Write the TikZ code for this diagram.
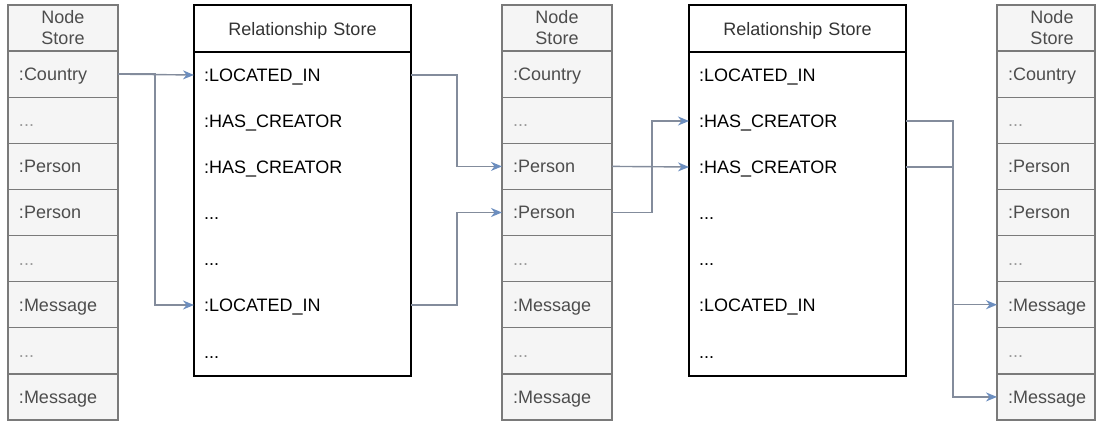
\documentclass[tikz,border=0pt]{standalone}
\usepackage{fontspec}
\setmainfont{Liberation Sans}
\usetikzlibrary{arrows.meta}

\definecolor{cellfill}{HTML}{F5F5F5}
\definecolor{cellline}{HTML}{7A7A7A}
\definecolor{celltext}{HTML}{4D4D4D}
\definecolor{dotstext}{HTML}{9A9A9A}
\definecolor{wireline}{HTML}{838C9C}
\definecolor{arrowblue}{HTML}{6C8EBF}
\definecolor{headtext}{HTML}{333333}

\tikzset{
  storebase/.style={draw=cellline, fill=cellfill, line width=1.3pt,
    rectangle, anchor=north west, outer sep=0pt,
    minimum width=110pt, minimum height=46.11pt,
    text width=88pt, inner xsep=11pt, inner ysep=0pt,
    font=\fontsize{18}{21}\selectfont, text=celltext},
  storecell/.style={storebase, align=left, text height=13pt, text depth=-4pt},
  storehead/.style={storebase, align=center},
  dotcell/.style={storecell, text=dotstext},
  narrowcol/.style={minimum width=98pt, text width=76pt},
  relrow/.style={rectangle, anchor=north west, outer sep=0pt,
    minimum width=217pt, minimum height=46pt,
    text width=197pt, inner xsep=10pt, inner ysep=0pt, align=left,
    text height=13pt, text depth=0pt,
    font=\fontsize{18}{21}\selectfont, text=black},
  relhead/.style={relrow, minimum height=47pt, align=center, text=headtext},
  relframe/.style={draw=black, line width=1.8pt},
  wire/.style={draw=wireline, line width=1.4pt,
    -{Stealth[length=11pt, width=9pt, inset=3.5pt, color=arrowblue]}},
}

\begin{document}
\begin{tikzpicture}[x=1pt, y=-1pt]
\useasboundingbox (0,0) rectangle (1096,423);

% Node store columns
\foreach \col/\x in {L/8, M/502} {
  \node[storehead] (\col0) at (\x,5) {Node\\Store};
  \node[storecell] (\col1) at (\x,{5+1*46.11}) {:Country};
  \node[dotcell]   (\col2) at (\x,{5+2*46.11}) {...};
  \node[storecell] (\col3) at (\x,{5+3*46.11}) {:Person};
  \node[storecell] (\col4) at (\x,{5+4*46.11}) {:Person};
  \node[dotcell]   (\col5) at (\x,{5+5*46.11}) {...};
  \node[storecell] (\col6) at (\x,{5+6*46.11}) {:Message};
  \node[dotcell]   (\col7) at (\x,{5+7*46.11}) {...};
  \node[storecell] (\col8) at (\x,{5+8*46.11}) {:Message};
}

% Right node store column, cut by the page edge
\node[storebase, narrowcol, label={[xshift=6pt, align=center, text=celltext,
    font=\fontsize{18}{21}\selectfont]center:Node\\Store}] (R0) at (997,5) {};
\node[storecell, narrowcol] (R1) at (997,{5+1*46.11}) {:Country};
\node[dotcell, narrowcol]   (R2) at (997,{5+2*46.11}) {...};
\node[storecell, narrowcol] (R3) at (997,{5+3*46.11}) {:Person};
\node[storecell, narrowcol] (R4) at (997,{5+4*46.11}) {:Person};
\node[dotcell, narrowcol]   (R5) at (997,{5+5*46.11}) {...};
\node[storecell, narrowcol] (R6) at (997,{5+6*46.11}) {:Message};
\node[dotcell, narrowcol]   (R7) at (997,{5+7*46.11}) {...};
\node[storecell, narrowcol] (R8) at (997,{5+8*46.11}) {:Message};

% Relationship stores
\foreach \rs/\x in {A/194, B/689} {
  \node[relhead] (\rs0) at (\x,5) {Relationship Store};
  \node[relrow] (\rs1) at (\x,52) {:LOCATED\_IN};
  \node[relrow] (\rs2) at (\x,98) {:HAS\_CREATOR};
  \node[relrow] (\rs3) at (\x,144) {:HAS\_CREATOR};
  \node[relrow] (\rs4) at (\x,190) {...};
  \node[relrow] (\rs5) at (\x,236) {...};
  \node[relrow] (\rs6) at (\x,282) {:LOCATED\_IN};
  \node[relrow, minimum height=48pt] (\rs7) at (\x,328) {...};
  \draw[relframe] (\rs0.north west) rectangle (\rs7.south east);
  \draw[relframe] (\rs0.south west) -- (\rs0.south east);
}

% Connectors
\draw[wire] (L1.east) -- (A1.west);
\draw[wire] (L1.east) -- ++(37,0) |- (A6.west);
\draw[wire] (A1.east) -- ++(46,0) |- (M3.west);
\draw[wire] (A6.east) -- ++(46,0) |- (M4.west);
\draw[wire] (M3.east) -- (B3.west);
\draw[wire] (M4.east) -- ++(40,0) |- (B2.west);
\draw[wire] (B2.east) -- ++(47,0) |- (R6.west);
\draw[wire] (B3.east) -- ++(47,0) |- (R8.west);
\end{tikzpicture}
\end{document}
